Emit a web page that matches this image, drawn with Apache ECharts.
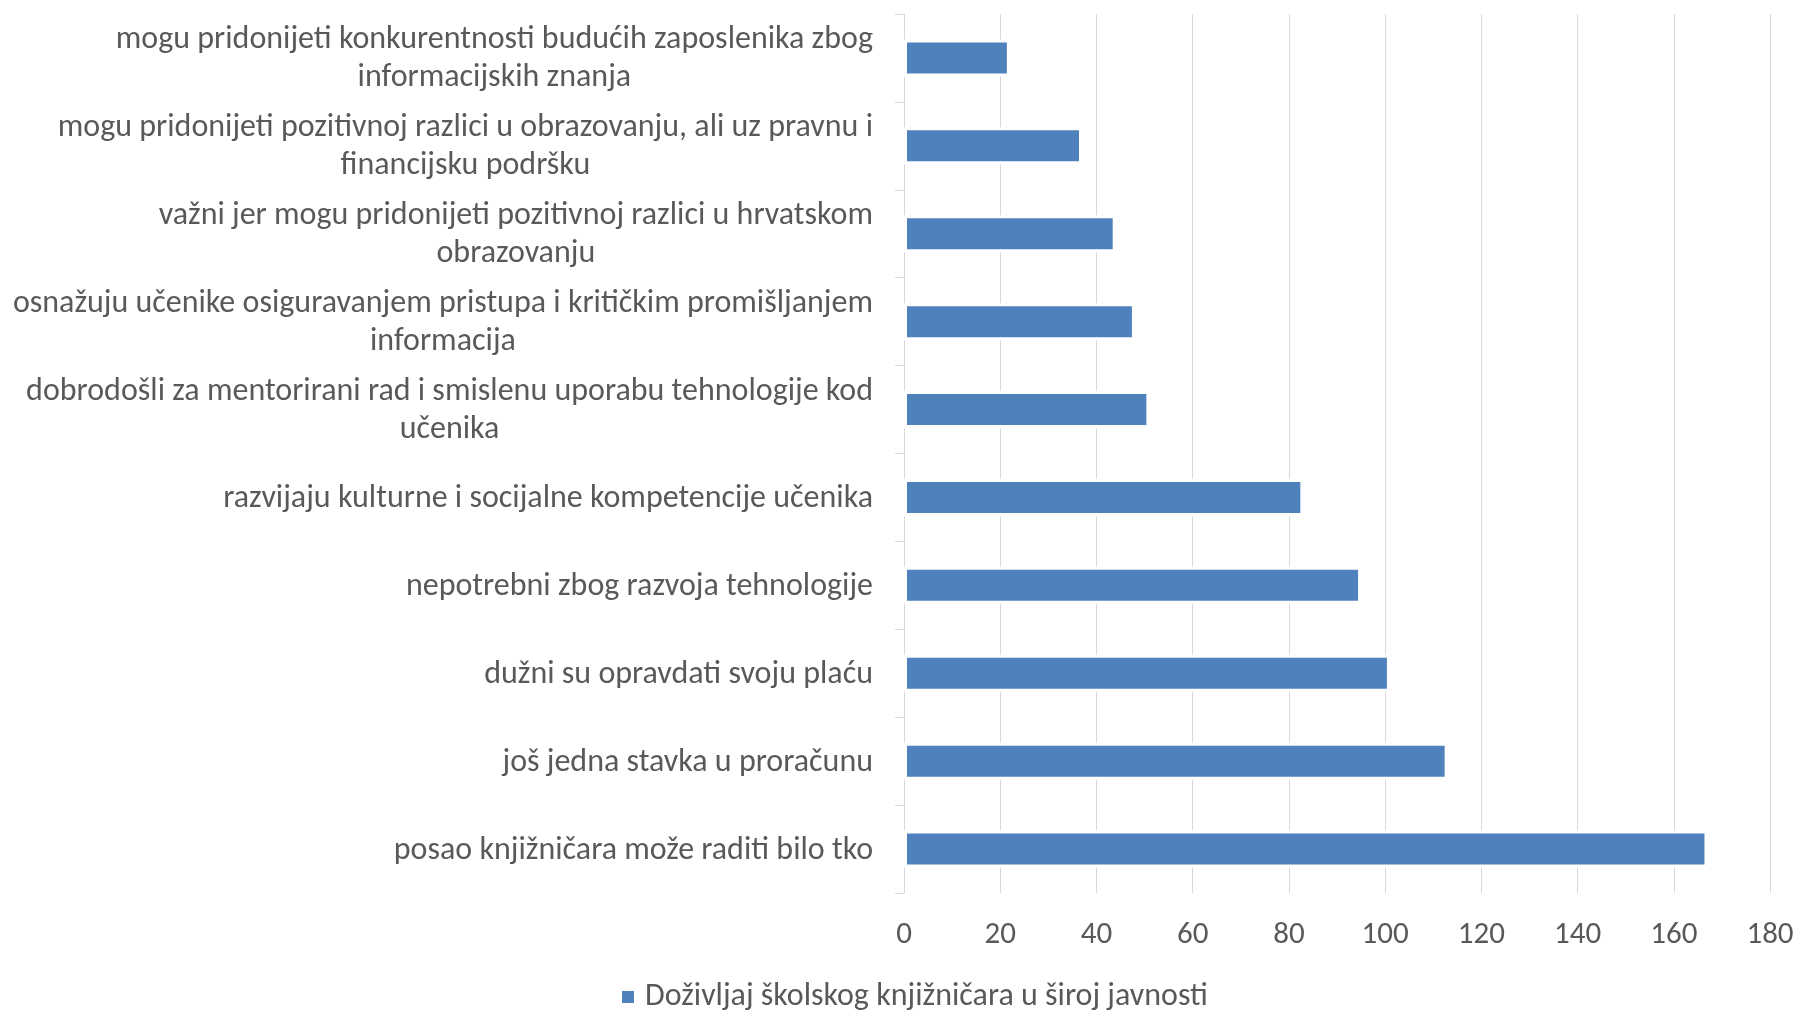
<!DOCTYPE html>
<html><head><meta charset="utf-8">
<script src="https://cdn.jsdelivr.net/npm/echarts@6/dist/echarts.min.js"></script>
<style>html,body{margin:0;padding:0;background:#fff}#c{width:1798px;height:1010px}</style>
</head><body><div id="c"></div>
<script>
// Categories, top to bottom as displayed (line breaks follow the reference wrapping)
var categories = [
  'mogu pridonijeti konkurentnosti budućih zaposlenika zbog\ninformacijskih znanja',
  'mogu pridonijeti pozitivnoj razlici u obrazovanju, ali uz pravnu i\nfinancijsku podršku',
  'važni jer mogu pridonijeti pozitivnoj razlici u hrvatskom\nobrazovanju',
  'osnažuju učenike osiguravanjem pristupa i kritičkim promišljanjem\ninformacija',
  'dobrodošli za mentorirani rad i smislenu uporabu tehnologije kod\nučenika',
  'razvijaju kulturne i socijalne kompetencije učenika',
  'nepotrebni zbog razvoja tehnologije',
  'dužni su opravdati svoju plaću',
  'još jedna stavka u proračunu',
  'posao knjižničara može raditi bilo tko'
];
var seriesName = 'Doživljaj školskog knjižničara u široj javnosti';
var values = [22, 37, 44, 48, 51, 83, 95, 101, 113, 167];
var xTicks = [0, 20, 40, 60, 80, 100, 120, 140, 160, 180];

var FONT = 'Carlito, Lato, sans-serif';
var TEXT = '#595959';
var GRID = '#d9d9d9';

var chart = echarts.init(document.getElementById('c'), null, {renderer: 'canvas'});
chart.setOption({
  animation: false,
  backgroundColor: '#ffffff',
  grid: {left: 904, right: 28, top: 14, bottom: 117, outerBoundsMode: 'none', containLabel: false},
  legend: {
    data: [seriesName],
    left: 620, top: 978, padding: 0,
    itemWidth: 14, itemHeight: 14, icon: 'rect',
    textStyle: {fontFamily: FONT, fontSize: 32, color: TEXT, lineHeight: 38, padding: [0, 0, 0, 5]}
  },
  xAxis: {
    type: 'value',
    min: xTicks[0], max: xTicks[xTicks.length - 1], interval: xTicks[1] - xTicks[0],
    axisLine: {show: false}, axisTick: {show: false},
    splitLine: {show: true, lineStyle: {color: GRID, width: 1}},
    axisLabel: {fontFamily: FONT, fontSize: 31, color: TEXT, margin: 42, verticalAlign: 'middle', lineHeight: 31}
  },
  yAxis: {
    type: 'category',
    data: categories,
    inverse: true,
    axisLine: {show: true, lineStyle: {color: GRID, width: 1}},
    axisTick: {show: true, length: 9, lineStyle: {color: GRID, width: 1}},
    splitLine: {show: false},
    axisLabel: {
      margin: 31,
      padding: [3, 0, 0, 0],
      fontFamily: FONT, fontSize: 32, color: TEXT, lineHeight: 38,
      formatter: function (v) {
        return v.split('\n').map(function (l) { return '{c|' + l + '}'; }).join('\n');
      },
      rich: {c: {align: 'center', fontFamily: FONT, fontSize: 32, color: TEXT, lineHeight: 38}}
    }
  },
  series: [{
    name: seriesName,
    type: 'bar',
    data: values,
    barWidth: 37,
    itemStyle: {color: '#4f81bd', borderColor: '#ffffff', borderWidth: 3}
  }]
});
</script></body></html>
